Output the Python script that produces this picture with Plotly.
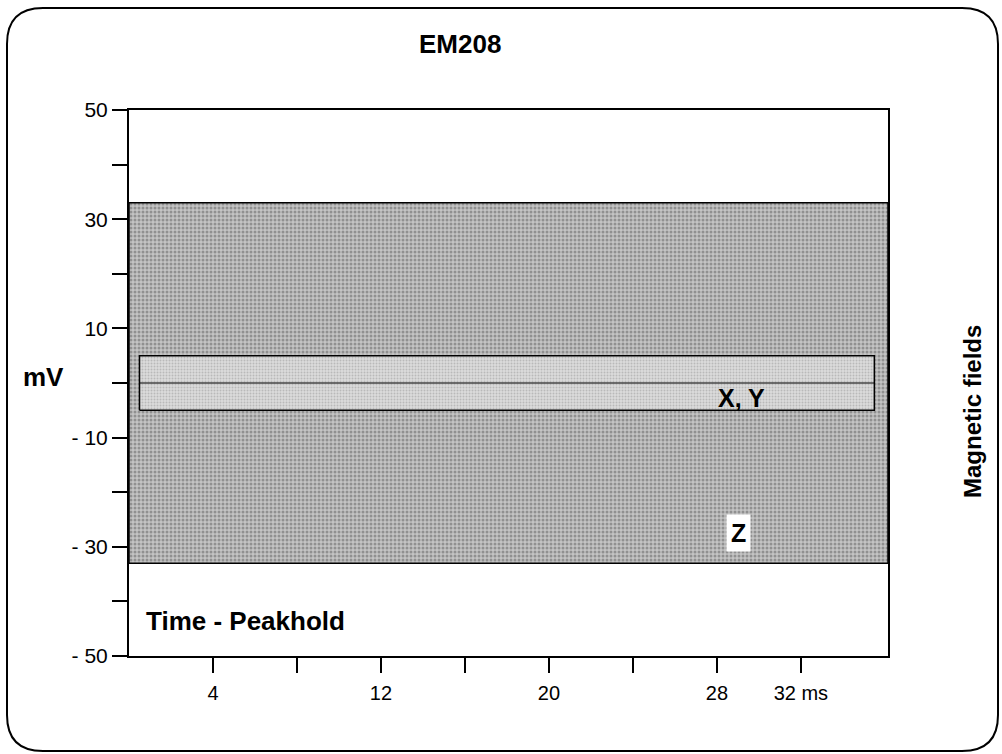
import plotly.graph_objects as go

# ---- data ----
x_tick_vals = [4, 8, 12, 16, 20, 24, 28, 32]
x_tick_text = ["4", "", "12", "", "20", "", "28", "32 ms"]
y_tick_vals = [50, 40, 30, 20, 10, 0, -10, -20, -30, -40, -50]
y_tick_text = ["50", "", "30", "", "10", "", "- 10", "", "- 30", "", "- 50"]

z_band_time = [0, 36.15]      # ms
z_band_mv = [-33, 33]         # mV
xy_band_time = [0.5, 35.5]    # ms
xy_band_mv = [-5, 5]          # mV
xy_center_mv = [0, 0]

x_range = [0, 36.15]
y_range = [-50, 50]

# ---- layout geometry (pixels) ----
W, H = 1002, 754
ML, MR, MT, MB = 129, 114, 110, 98
PW, PH = W - ML - MR, H - MT - MB


def px(xp):
    return (xp - ML) / PW


def py(yp):
    return (H - MB - yp) / PH


def rect(xs, ys):
    return [xs[0], xs[1], xs[1], xs[0], xs[0]], [ys[0], ys[0], ys[1], ys[1], ys[0]]


fig = go.Figure()

zx, zy = rect(z_band_time, z_band_mv)
fig.add_trace(go.Scatter(
    x=zx, y=zy, mode="lines", fill="toself",
    fillcolor="#a8a8a8",
    fillpattern=dict(shape=".", fgcolor="#5c5c5c", bgcolor="#c4c4c4", size=4, solidity=0.45),
    line=dict(color="black", width=1.5), hoverinfo="skip", showlegend=False))

xx, xy = rect(xy_band_time, xy_band_mv)
fig.add_trace(go.Scatter(
    x=xx, y=xy, mode="lines", fill="toself",
    fillcolor="#d0d0d0",
    fillpattern=dict(shape=".", fgcolor="#959595", bgcolor="#dcdcdc", size=3, solidity=0.35),
    line=dict(color="black", width=1.5), hoverinfo="skip", showlegend=False))

fig.add_trace(go.Scatter(
    x=xy_band_time, y=xy_center_mv, mode="lines",
    line=dict(color="black", width=1.2), hoverinfo="skip", showlegend=False))

font = "Liberation Sans, Arial, Helvetica, sans-serif"

# rounded frame around the whole picture
L, T, R, B, r = 7, 8, 998, 751, 36
path = (
    f"M {px(L + r)} {py(T)} L {px(R - r)} {py(T)} Q {px(R)} {py(T)} {px(R)} {py(T + r)} "
    f"L {px(R)} {py(B - r)} Q {px(R)} {py(B)} {px(R - r)} {py(B)} "
    f"L {px(L + r)} {py(B)} Q {px(L)} {py(B)} {px(L)} {py(B - r)} "
    f"L {px(L)} {py(T + r)} Q {px(L)} {py(T)} {px(L + r)} {py(T)} Z"
)
fig.add_shape(type="path", xref="paper", yref="paper", path=path,
              line=dict(color="black", width=2), layer="above")


def label(text, x, y, size, **kw):
    d = dict(text=text, xref="paper", yref="paper", x=px(x), y=py(y),
             xanchor="center", yanchor="middle", showarrow=False,
             font=dict(size=size, family=font, color="black"))
    d.update(kw)
    return d


annotations = [
    label("<b>EM208</b>", 460, 44, 26),
    label("<b>Magnetic fields</b>", 972, 412, 24, textangle=-90),
    label("<b>mV</b>", 43, 377, 26),
    label("<b>Time - Peakhold</b>", 245, 621, 26),
    label("<b>X, Y</b>", 741, 398, 25),
    label("<b>Z</b>", 738, 533, 25, bgcolor="white", borderpad=4),
]

fig.update_layout(
    width=W, height=H,
    margin=dict(l=ML, r=MR, t=MT, b=MB),
    paper_bgcolor="white", plot_bgcolor="white",
    font=dict(family=font, size=20, color="black"),
    annotations=annotations,
    xaxis=dict(range=x_range, tickmode="array", tickvals=x_tick_vals, ticktext=x_tick_text,
               ticks="outside", ticklen=15, tickwidth=1.5, tickcolor="black",
               showline=True, linecolor="black", linewidth=2, mirror=True,
               showgrid=False, zeroline=False, ticklabelstandoff=3,
               tickfont=dict(size=20)),
    yaxis=dict(range=y_range, tickmode="array", tickvals=y_tick_vals, ticktext=y_tick_text,
               ticks="outside", ticklen=15, tickwidth=1.5, tickcolor="black",
               showline=True, linecolor="black", linewidth=2, mirror=True,
               showgrid=False, zeroline=False, ticklabelstandoff=0,
               tickfont=dict(size=21)),
)

fig.write_html("out.html", config={"displayModeBar": False},
               post_script="document.body.style.margin='0';document.body.style.overflow='hidden';")
